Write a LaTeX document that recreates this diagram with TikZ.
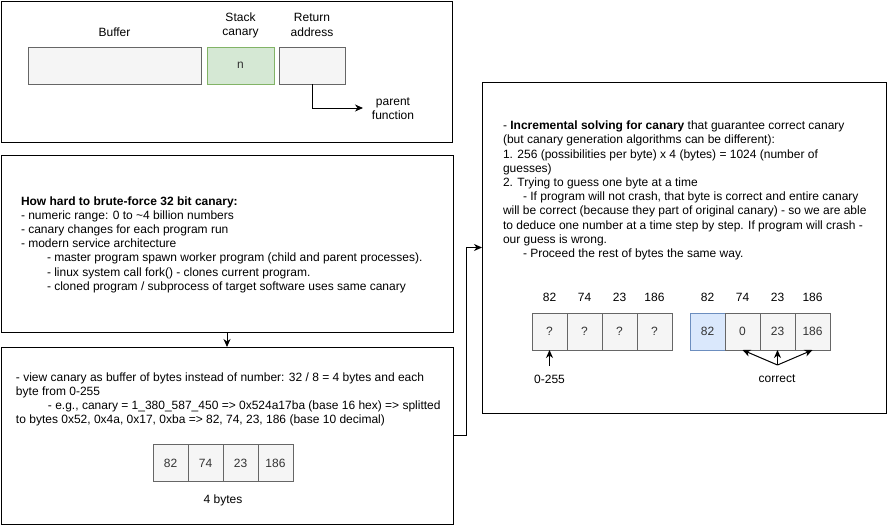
\documentclass[tikz,border=0pt]{standalone}
\usepackage{fontspec}
\setmainfont{Liberation Sans}
\usetikzlibrary{arrows.meta}

\newlength{\du}
\setlength{\du}{1pt}

\definecolor{dialinecolor}{rgb}{0.000000, 0.000000, 0.000000}
\definecolor{cellfill}{HTML}{F5F5F5}
\definecolor{cellline}{HTML}{666666}
\definecolor{celltext}{HTML}{333333}
\definecolor{canaryfill}{HTML}{D5E8D4}
\definecolor{canaryline}{HTML}{82B366}
\definecolor{solvedfill}{HTML}{DAE8FC}
\definecolor{solvedline}{HTML}{6C8EBF}

\tikzset{
  frame/.style={draw=dialinecolor, fill=white, line width=1\du, inner sep=0pt, outer sep=0pt},
  cell/.style={draw=cellline, fill=cellfill, text=celltext, line width=1\du,
    minimum width=35\du, minimum height=37\du, inner sep=0pt, outer sep=0pt},
  solved/.style={cell, draw=solvedline, fill=solvedfill},
  txt/.style={inner sep=0pt, outer sep=0pt, align=left, anchor=west},
  lbl/.style={inner sep=0pt, outer sep=0pt, align=center},
  conn/.style={draw=dialinecolor, line width=1\du, -{Stealth[length=8pt,width=7pt,inset=2.5pt]}},
}

\begin{document}
\begin{tikzpicture}[font=\fontsize{12}{14.2}\selectfont]
\pgftransformyscale{-1.000000}
\path[use as bounding box, fill=white] (0\du,0\du) rectangle (888\du,525\du);

% stack layout
\node[frame, minimum width=451\du, minimum height=141\du] (frame1) at (226.5\du,71.5\du) {};
\node[cell, minimum width=173\du] (buffer) at (114.5\du,65.5\du) {};
\node[cell, draw=canaryline, fill=canaryfill, minimum width=67\du] (canary) at (240.5\du,65.5\du) {n};
\node[cell, minimum width=66\du] (retaddr) at (312\du,65.5\du) {};
\node[lbl] (bufferlbl) at (114.5\du,32\du) {Buffer};
\node[lbl] (canarylbl) at (240.5\du,25\du) {Stack\\canary};
\node[lbl] (retlbl) at (312\du,25\du) {Return\\address};
\node[lbl] (parentlbl) at (393\du,108.5\du) {parent\\function};
\coordinate (parentpt) at (363\du,108\du);
\draw[conn] (retaddr.south) |- (parentpt);

% brute force
\node[frame, minimum width=452\du, minimum height=177\du] (frame2) at (227\du,243.5\du) {};
\node[txt] (hardtxt) at (21\du,244.5\du) {\textbf{How hard to brute-force 32 bit canary:}\\
- numeric range: 0 to \textasciitilde4 billion numbers\\
- canary changes for each program run\\
- modern service architecture\\
\hspace*{26\du}- master program spawn worker program (child and parent processes).\\
\hspace*{26\du}- linux system call fork() - clones current program.\\
\hspace*{26\du}- cloned program / subprocess of target software uses same canary};

% bytes view
\node[frame, minimum width=452\du, minimum height=177\du] (frame3) at (227\du,435.5\du) {};
\node[txt] (viewtxt) at (16\du,399.5\du) {- view canary as buffer of bytes instead of number: 32 / 8 = 4 bytes and each\\
byte from 0-255\\
\hspace*{32\du}- e.g., canary = 1\_380\_587\_450 => 0x524a17ba (base 16 hex) => splitted\\
to bytes 0x52, 0x4a, 0x17, 0xba => 82, 74, 23, 186 (base 10 decimal)};
\foreach \v [count=\i] in {82,74,23,186} {
  \pgfmathsetlengthmacro{\bx}{(135.5+35*\i)*\du}
  \node[cell] (byte\i) at (\bx,463\du) {\v};
}
\node[lbl] (bytescap) at (223\du,500\du) {4 bytes};

% incremental solving
\node[frame, minimum width=404\du, minimum height=331\du] (frame4) at (684\du,247.5\du) {};
\node[txt] (incrtxt) at (503\du,190.5\du) {- \textbf{Incremental solving for canary} that guarantee correct canary\\
(but canary generation algorithms can be different):\\
1. 256 (possibilities per byte) x 4 (bytes) = 1024 (number of\\
guesses)\\
2. Trying to guess one byte at a time\\
\hspace*{20\du}- If program will not crash, that byte is correct and entire canary\\
will be correct (because they part of original canary) - so we are able\\
to deduce one number at a time step by step. If program will crash -\\
our guess is wrong.\\
\hspace*{20\du}- Proceed the rest of bytes the same way.};
\foreach \v [count=\i] in {82,74,23,186} {
  \pgfmathsetlengthmacro{\bx}{(514.5+35*\i)*\du}
  \node[cell] (guess\i) at (\bx,331.5\du) {?};
  \node[lbl] (guesshd\i) at (\bx,297\du) {\v};
}
\foreach \v/\w/\s [count=\i] in {82/82/solved,74/0/cell,23/23/cell,186/186/cell} {
  \pgfmathsetlengthmacro{\bx}{(672.5+35*\i)*\du}
  \node[\s] (known\i) at (\bx,331.5\du) {\w};
  \node[lbl] (knownhd\i) at (\bx,297\du) {\v};
}
\node[lbl] (rangelbl) at (549.5\du,379\du) {0-255};
\coordinate (rangetail) at (549.5\du,366\du);
\draw[conn] (rangetail) -- (guess1.south);
\node[lbl] (correctlbl) at (777\du,379\du) {correct};
\coordinate (correctjoin) at (777.5\du,365\du);
\foreach \k in {2,3,4}
  \draw[conn] (correctjoin) -- (known\k.south);

% flow
\draw[conn] (frame2.south) -- (frame3.north);
\draw[conn] (frame3.east) -- ++(13\du,0\du) |- (frame4.west);
\end{tikzpicture}
\end{document}
